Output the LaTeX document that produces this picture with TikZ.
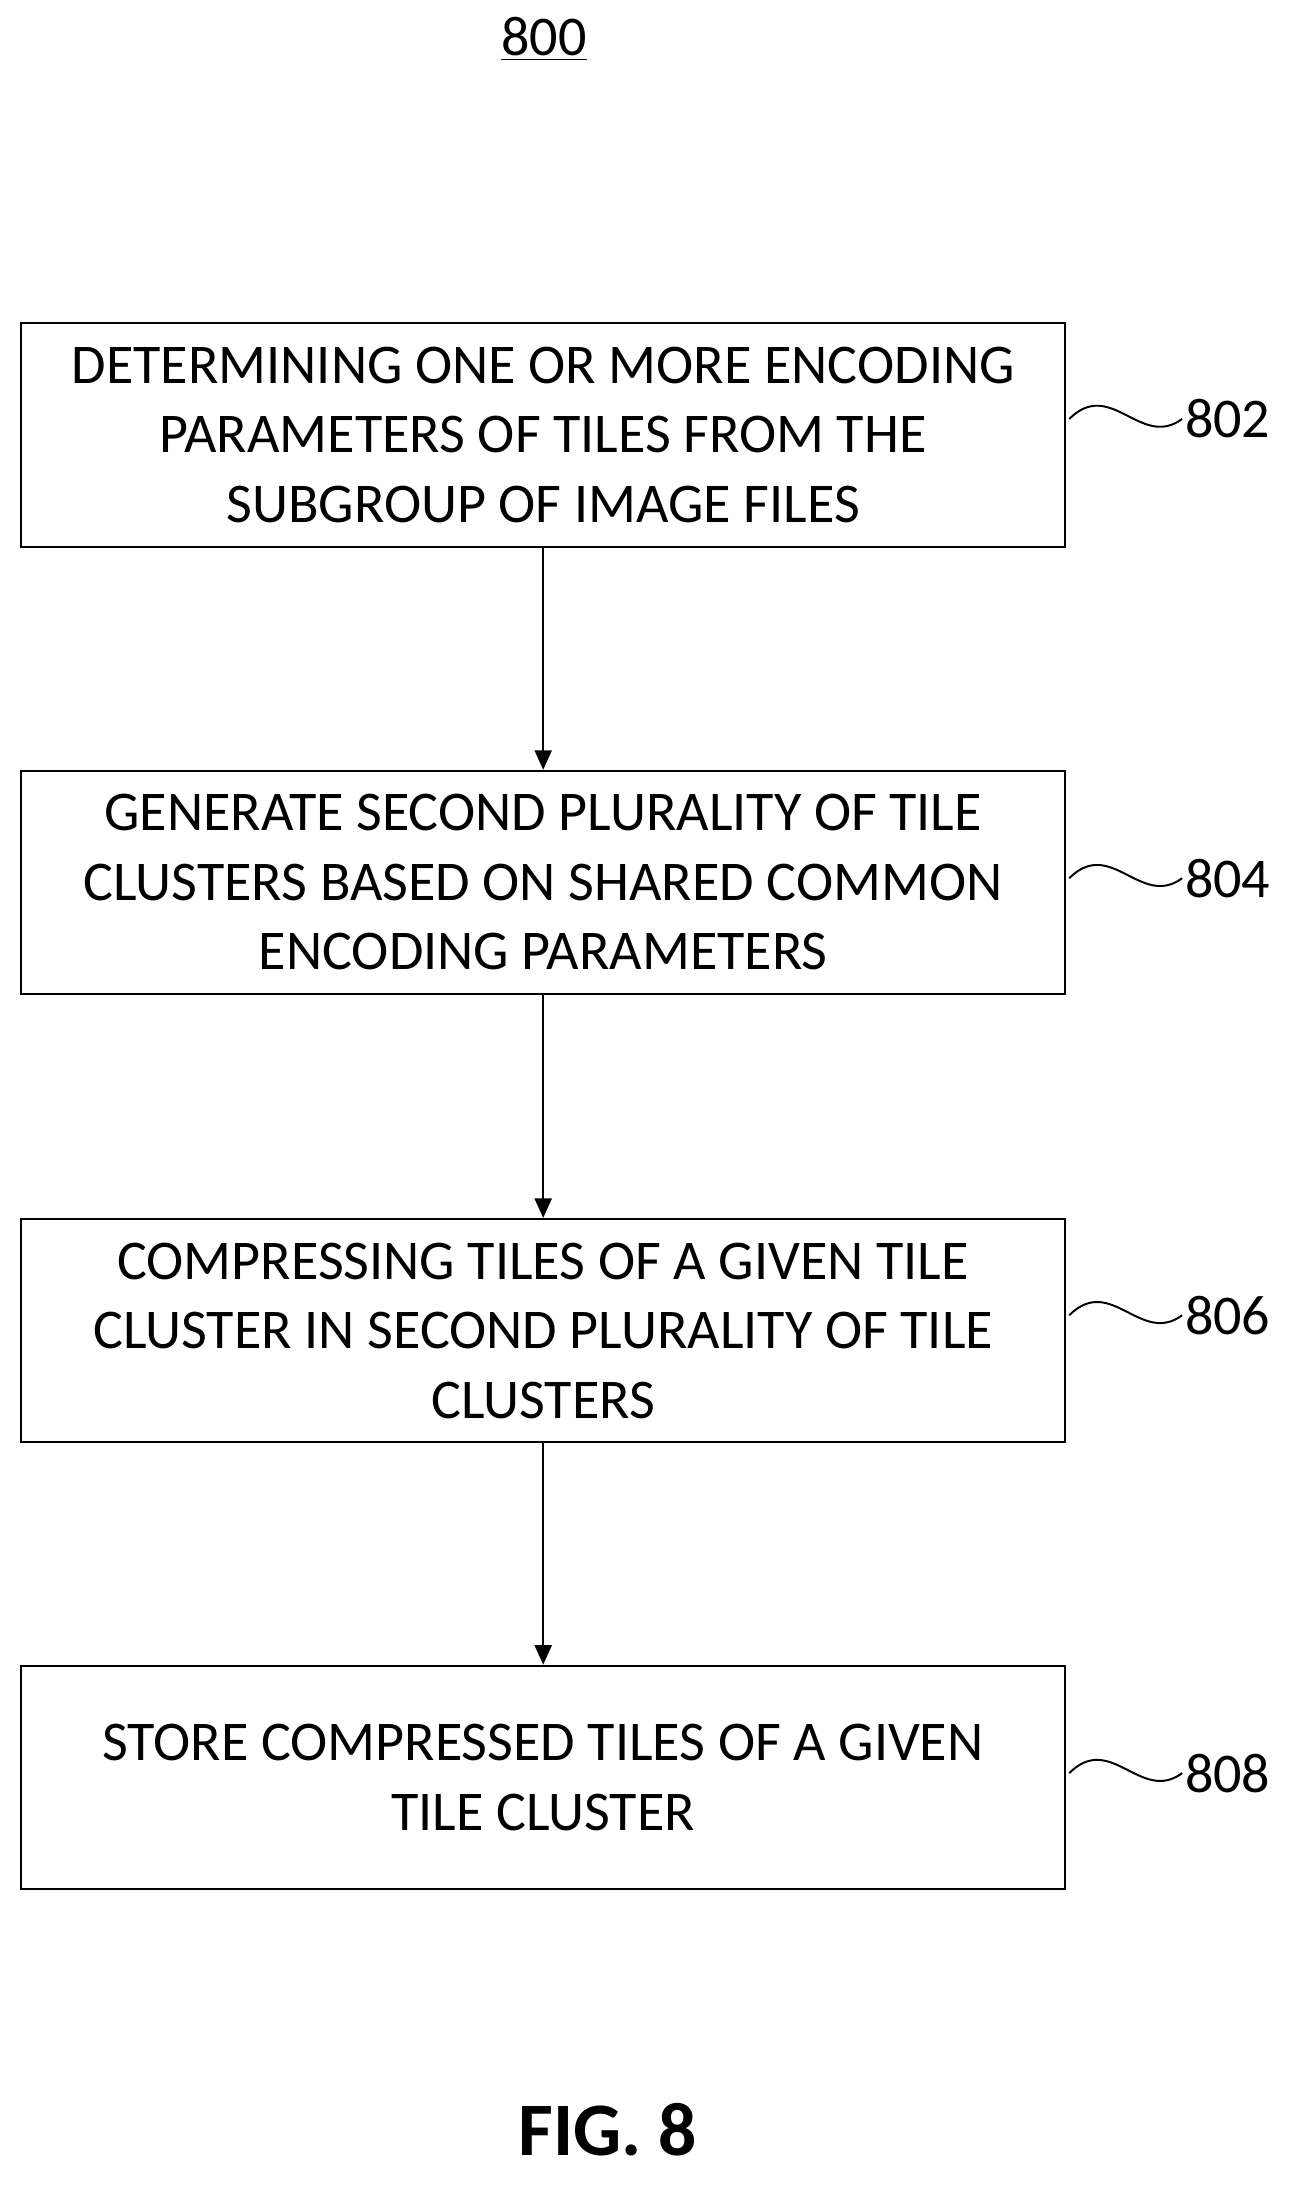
\documentclass[tikz,border=0pt]{standalone}
\usepackage{fontspec}
\setmainfont{Carlito}
\usetikzlibrary{positioning,arrows.meta}
\tikzset{
  box/.style={draw, thick, minimum width=15.06cm, minimum height=3.22cm, align=center, font=\fontsize{23}{28.5}\selectfont},
  ref/.style={font=\fontsize{23}{28}\selectfont, anchor=west, inner sep=1pt},
  flow/.style={-{Triangle[length=8pt,width=7pt]}, thick}
}
\begin{document}
\begin{tikzpicture}[x=0.02cm,y=-0.02cm]
\useasboundingbox (0,0) rectangle (936,1577);
\node[font=\fontsize{23}{28}\selectfont] (title) at (392,28) {\underline{800}};
\node[box] (s802) at (391.5,313.5) {DETERMINING ONE OR MORE ENCODING\\PARAMETERS OF TILES FROM THE\\SUBGROUP OF IMAGE FILES};
\node[box] (s804) at (391.5,636) {GENERATE SECOND PLURALITY OF TILE\\CLUSTERS BASED ON SHARED COMMON\\ENCODING PARAMETERS};
\node[box] (s806) at (391.5,959) {COMPRESSING TILES OF A GIVEN TILE\\CLUSTER IN SECOND PLURALITY OF TILE\\CLUSTERS};
\node[box] (s808) at (391.5,1281) {STORE COMPRESSED TILES OF A GIVEN\\TILE CLUSTER};
\draw[flow] (s802) -- (s804);
\draw[flow] (s804) -- (s806);
\draw[flow] (s806) -- (s808);
% reference labels
\foreach \s/\y in {802/302, 804/633, 806/948, 808/1278}{
  \node[ref] (l\s) at (852,\y) {\s};
  \draw[thick] (s\s.east |- l\s.west) ++(2,0) .. controls +(30,-30) and +(-30,22) .. (l\s.west);
}
\node[font=\bfseries\fontsize{31}{36}\selectfont] (fig) at (438,1535) {FIG. 8};
\end{tikzpicture}
\end{document}
